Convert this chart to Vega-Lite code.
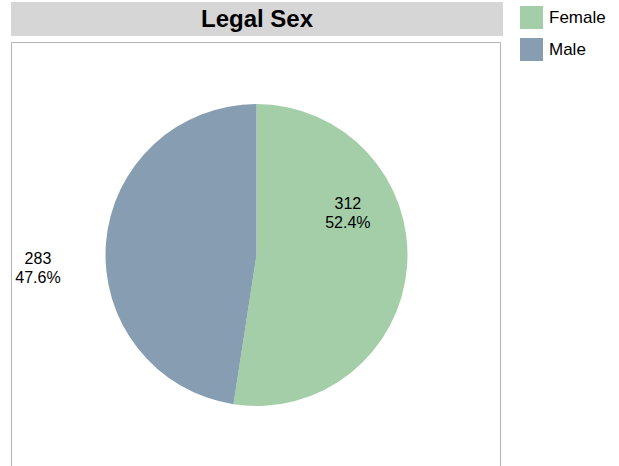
{
  "$schema": "https://vega.github.io/schema/vega-lite/v6.json",
  "padding": {"left": 10, "top": 2, "right": 0, "bottom": 0},
  "background": "white",
  "config": {
    "font": "Liberation Sans",
    "view": {"stroke": "#b4b4b4"},
    "concat": {"spacing": 5},
    "legend": {
      "orient": "right", "offset": 13, "padding": 4,
      "symbolType": "square", "symbolSize": 529, "symbolStrokeWidth": 0,
      "labelFontSize": 17, "labelFont": "Liberation Sans", "labelColor": "#000000",
      "labelOffset": 6, "rowPadding": 9
    }
  },
  "datasets": {
    "sex": [
      {"sex": "Female", "count": 312, "pct": "52.4%"},
      {"sex": "Male", "count": 283, "pct": "47.6%"}
    ]
  },
  "resolve": {"scale": {"x": "independent", "y": "independent"}},
  "vconcat": [
    {
      "width": 492, "height": 34,
      "view": {"fill": "#d6d6d6", "stroke": null},
      "data": {"values": [{"t": "Legal Sex"}]},
      "mark": {"type": "text", "font": "Liberation Sans", "fontWeight": "bold", "fontSize": 24, "baseline": "middle", "align": "center", "color": "#000000", "dy": 1},
      "encoding": {
        "text": {"field": "t"},
        "x": {"datum": 0.5, "type": "quantitative", "scale": {"domain": [0, 1]}, "axis": null},
        "y": {"datum": 0.5, "type": "quantitative", "scale": {"domain": [0, 1]}, "axis": null}
      }
    },
    {
      "width": 489, "height": 426,
      "view": {"stroke": "#b4b4b4", "fill": "white"},
      "data": {"name": "sex"},
      "transform": [{"calculate": "[format(datum.count, 'd'), datum.pct]", "as": "label"}],
      "layer": [
        {
          "mark": {"type": "arc", "radius": 151, "xOffset": 1},
          "encoding": {
            "theta": {"field": "count", "type": "quantitative", "stack": true},
            "order": {"field": "sex", "sort": "ascending"},
            "color": {
              "field": "sex", "type": "nominal",
              "scale": {"domain": ["Female", "Male"], "range": ["#a3cea8", "#869db2"]},
              "legend": {"title": null}
            }
          }
        },
        {
          "mark": {"type": "text", "radius": 102, "thetaOffset": -0.49, "xOffset": -1, "dy": -10, "fontSize": 16, "lineHeight": 19, "align": "center", "baseline": "middle", "color": "#000000"},
          "encoding": {
            "theta": {"field": "count", "type": "quantitative", "stack": true},
            "order": {"field": "sex", "sort": "ascending"},
            "detail": {"field": "sex"},
            "text": {"condition": {"test": "datum.sex === 'Female'", "field": "label"}, "value": ""}
          }
        },
        {
          "mark": {"type": "text", "radius": 219, "thetaOffset": -0.141, "xOffset": 1, "dy": -10, "fontSize": 16, "lineHeight": 19, "align": "center", "baseline": "middle", "color": "#000000"},
          "encoding": {
            "theta": {"field": "count", "type": "quantitative", "stack": true},
            "order": {"field": "sex", "sort": "ascending"},
            "detail": {"field": "sex"},
            "text": {"condition": {"test": "datum.sex === 'Male'", "field": "label"}, "value": ""}
          }
        }
      ]
    }
  ]
}
